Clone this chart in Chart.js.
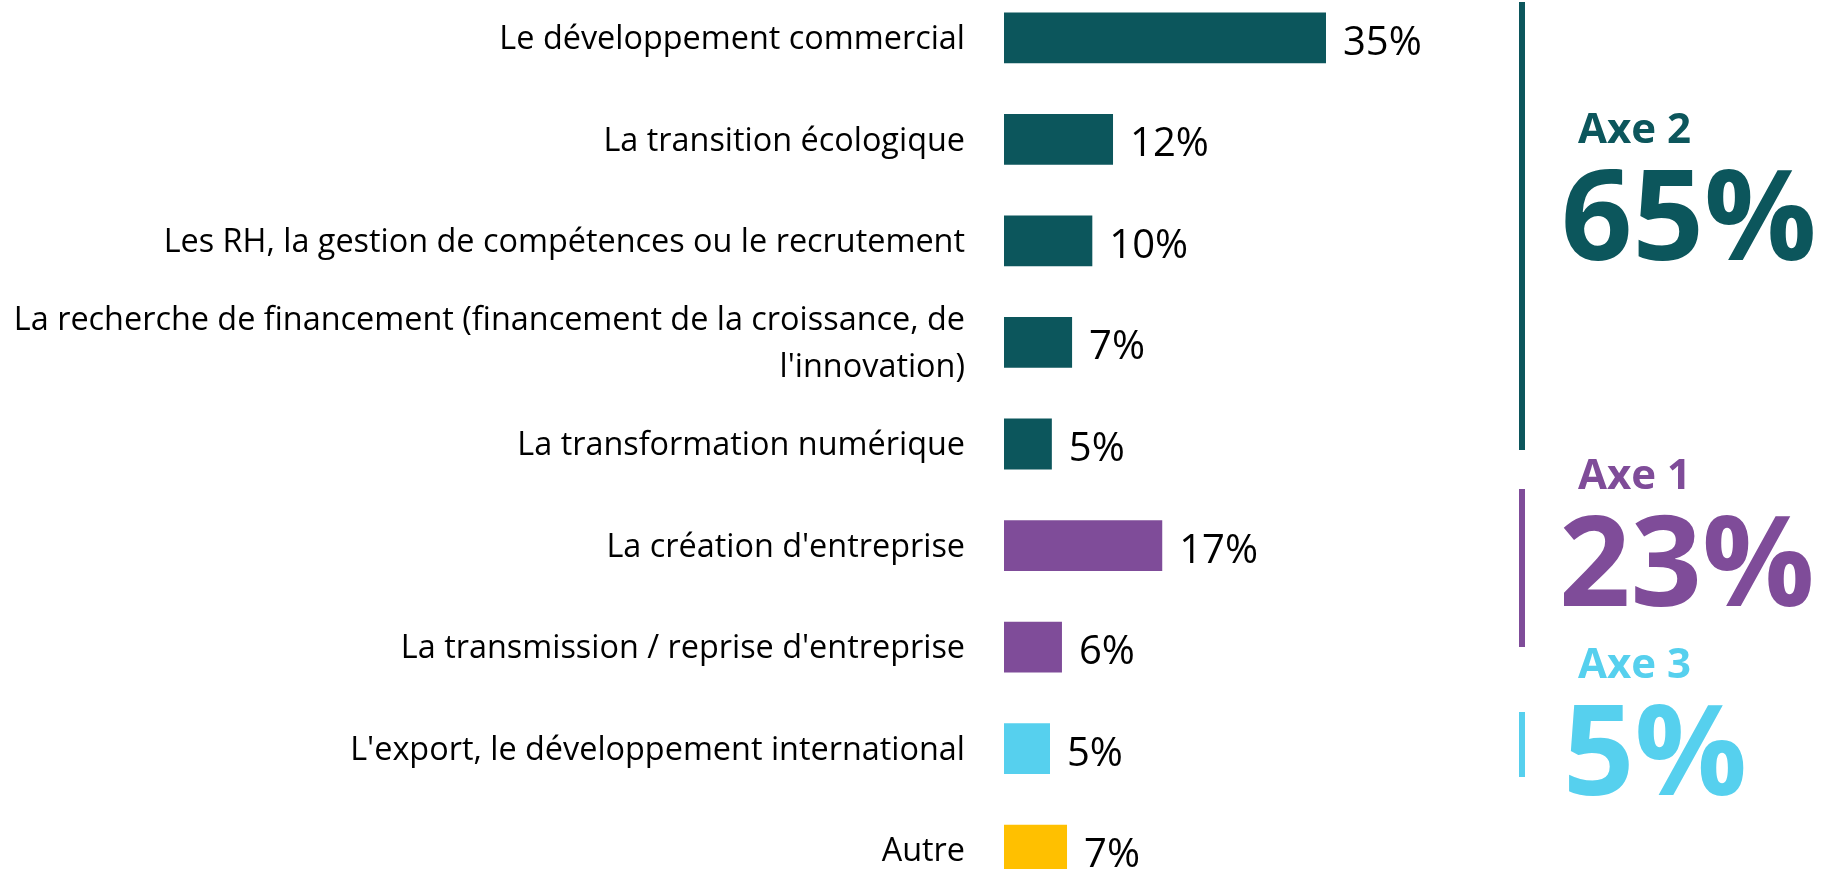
<!DOCTYPE html>
<html lang="fr">
<head>
<meta charset="utf-8">
<title>Axes</title>
<script src="https://cdn.jsdelivr.net/npm/chart.js@4/dist/chart.umd.min.js"></script>
<style>
  html, body { margin: 0; padding: 0; background: #ffffff; overflow: hidden; width: 1822px; height: 869px; }
  #wrap { position: absolute; left: 0; top: -13px; width: 1822px; height: 914px; }
  canvas { display: block; }
</style>
</head>
<body>
<div id="wrap"><canvas id="c" width="1822" height="914"></canvas></div>
<script>
// ---- Data ----
const categories = [
  "Le développement commercial",
  "La transition écologique",
  "Les RH, la gestion de compétences ou le recrutement",
  ["La recherche de financement (financement de la croissance, de", "l'innovation)"],
  "La transformation numérique",
  "La création d'entreprise",
  "La transmission / reprise d'entreprise",
  "L'export, le développement international",
  "Autre"
];
const values = [35.0, 11.85, 9.6, 7.4, 5.2, 17.2, 6.3, 5.0, 6.85];
const barColors = ["#0C565C", "#0C565C", "#0C565C", "#0C565C", "#0C565C", "#7F4C99", "#7F4C99", "#56D0EE", "#FFC000"];
const valueLabels = values.map(v => Math.round(v) + "%");

const groupNames = ["Axe 2", "Axe 1", "Axe 3"];
const groupTotals = [65, 23, 5];
const groupColors = ["#0C565C", "#7F4C99", "#56D0EE"];

// ---- Layout constants (page pixels) ----
const OFFSET = 13; // canvas is shifted up by this many px
const groupLayout = [
  { lineTop: 2,   lineBottom: 450, nameX: 1578, nameBase: 143, totX: 1561, totBase: 260 },
  { lineTop: 489, lineBottom: 647, nameX: 1578, nameBase: 489, totX: 1559, totBase: 606 },
  { lineTop: 712, lineBottom: 777, nameX: 1578, nameBase: 678, totX: 1563, totBase: 795 }
];

const valueLabelPlugin = {
  id: 'valueLabels',
  afterDatasetsDraw(chart) {
    const ctx = chart.ctx;
    const meta = chart.getDatasetMeta(0);
    ctx.save();
    ctx.font = '40px "Open Sans"';
    ctx.fillStyle = '#000000';
    ctx.textAlign = 'left';
    ctx.textBaseline = 'alphabetic';
    meta.data.forEach((bar, i) => {
      ctx.fillText(valueLabels[i], bar.x + 17, bar.y + 17);
    });
    ctx.restore();
  }
};

const groupPlugin = {
  id: 'groups',
  afterDraw(chart) {
    const ctx = chart.ctx;
    ctx.save();
    ctx.textAlign = 'left';
    ctx.textBaseline = 'alphabetic';
    groupLayout.forEach((g, i) => {
      ctx.fillStyle = groupColors[i];
      ctx.fillRect(1519, g.lineTop + OFFSET, 6, g.lineBottom - g.lineTop);
      ctx.font = 'bold 42px "Open Sans"';
      ctx.fillText(groupNames[i], g.nameX, g.nameBase + OFFSET);
      ctx.font = 'bold 125px "Open Sans"';
      ctx.fillText(groupTotals[i] + "%", g.totX, g.totBase + OFFSET);
    });
    ctx.restore();
  }
};

function draw() {
  const ctx = document.getElementById('c').getContext('2d');
  new Chart(ctx, {
    type: 'bar',
    data: {
      labels: categories,
      datasets: [{
        data: values,
        backgroundColor: barColors,
        borderWidth: 0,
        categoryPercentage: 1.0,
        barPercentage: 0.5
      }]
    },
    options: {
      indexAxis: 'y',
      responsive: false,
      animation: false,
      devicePixelRatio: 1,
      layout: { padding: { left: 0, right: 358, top: 0, bottom: 0 } },
      plugins: { legend: { display: false }, tooltip: { enabled: false }, title: { display: false } },
      scales: {
        x: { display: false, min: 0, max: 50 },
        y: {
          position: 'left',
          grid: { display: false, drawTicks: false },
          border: { display: false },
          ticks: {
            padding: 39,
            labelOffset: 2,
            color: '#000000',
            font: { family: '"Open Sans"', size: 32.4, lineHeight: 1.45 }
          },
          afterFit(scale) {
            scale.width = 1004;
            scale.paddingTop = 0;
            scale.paddingBottom = 0;
          }
        }
      }
    },
    plugins: [valueLabelPlugin, groupPlugin]
  });
}

Promise.all([
  document.fonts.load('32px "Open Sans"'),
  document.fonts.load('bold 42px "Open Sans"')
]).then(draw, draw);
</script>
</body>
</html>
